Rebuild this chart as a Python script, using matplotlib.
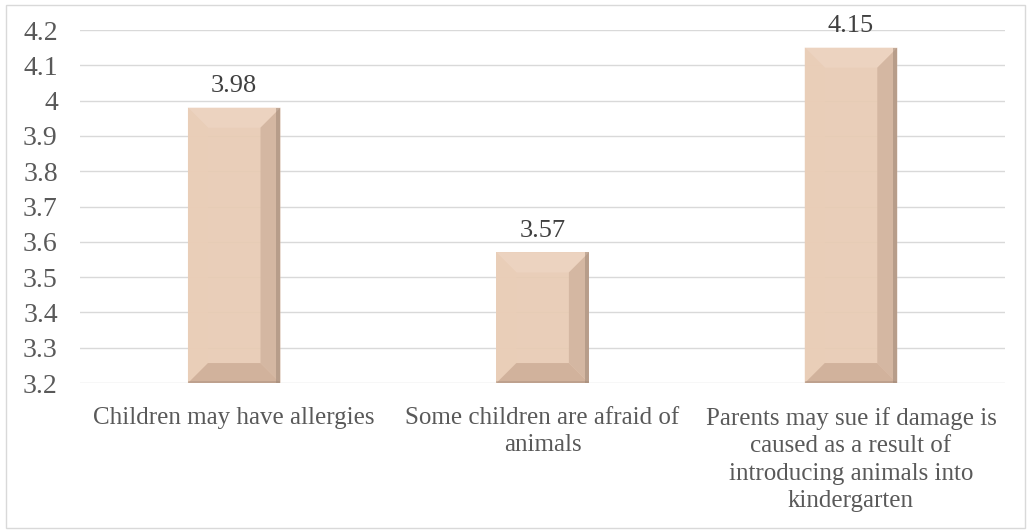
import matplotlib.pyplot as plt
from matplotlib.patches import Polygon, Rectangle

categories = [
    "Children may have allergies",
    "Some children are afraid of\nanimals",
    "Parents may sue if damage is\ncaused as a result of\nintroducing animals into\nkindergarten",
]
values = [3.98, 3.57, 4.15]
yticks = [3.2, 3.3, 3.4, 3.5, 3.6, 3.7, 3.8, 3.9, 4.0, 4.1, 4.2]
ytick_labels = ["3.2", "3.3", "3.4", "3.5", "3.6", "3.7", "3.8", "3.9", "4", "4.1", "4.2"]

plt.rcParams["font.family"] = ["Liberation Serif", "DejaVu Serif"]
text_color = "#595959"
face = "#E8CBB4"

fig = plt.figure(figsize=(10.31, 5.32), dpi=100)
ax = fig.add_axes([0.0776, 0.280, 0.8974, 0.6636])
fig.patches.append(Rectangle((0.006, 0.008), 0.988, 0.983, transform=fig.transFigure,
                             fill=False, edgecolor="#D9D9D9", linewidth=1))

ax.set_ylim(3.2, 4.2)
ax.set_xlim(-0.5, 2.5)
ax.set_yticks(yticks)
ax.set_yticklabels(ytick_labels)
ax.grid(axis="y", color="#D9D9D9", linewidth=1)
ax.set_axisbelow(True)
for s in ax.spines.values():
    s.set_visible(False)
ax.tick_params(axis="y", length=0, pad=16, labelsize=20, labelcolor=text_color)
ax.tick_params(axis="x", length=0, pad=17, labelsize=18, labelcolor=text_color)
ax.set_xticks(range(len(categories)))
ax.set_xticklabels(categories, linespacing=1.33, va="top")

width = 0.3
bars = ax.bar(range(len(values)), [v - 3.2 for v in values], bottom=3.2, width=width,
              color=face, alpha=0.93, zorder=2)

# bevel size in pixels, converted into data units
fig.canvas.draw()
inv = ax.transData.inverted()
p0 = inv.transform((0, 0))
p1 = inv.transform((20, 20))
dx, dy = p1[0] - p0[0], p1[1] - p0[1]

for bar, v in zip(bars, values):
    x0 = bar.get_x()
    x1 = x0 + bar.get_width()
    y0, y1 = 3.2, v
    top = [(x0, y1), (x1, y1), (x1 - dx, y1 - dy), (x0 + dx, y1 - dy)]
    bottom = [(x0, y0), (x1, y0), (x1 - dx, y0 + dy), (x0 + dx, y0 + dy)]
    left = [(x0, y0), (x0, y1), (x0 + dx, y1 - dy), (x0 + dx, y0 + dy)]
    right = [(x1, y0), (x1, y1), (x1 - dx, y1 - dy), (x1 - dx, y0 + dy)]
    for pts, col in [(top, "#EDD4C1"), (left, "#EACEB8"),
                     (right, "#D3B6A1"), (bottom, "#D0B09A")]:
        ax.add_patch(Polygon(pts, closed=True, facecolor=col, edgecolor="none",
                             alpha=0.93, zorder=3))
    ax.add_patch(Rectangle((x1 - dx * 0.2, y0), dx * 0.2, y1 - y0,
                           facecolor="#9C8474", edgecolor="none", alpha=0.5, zorder=4))
    ax.add_patch(Rectangle((x0, y0), x1 - x0, dy * 0.12,
                           facecolor="#9C8474", edgecolor="none", alpha=0.35, zorder=4))
    ax.text(bar.get_x() + bar.get_width() / 2, v + 0.03, f"{v:.2f}",
            ha="center", va="bottom", fontsize=19, color="#404040")

fig.savefig("out.png", dpi=100)
